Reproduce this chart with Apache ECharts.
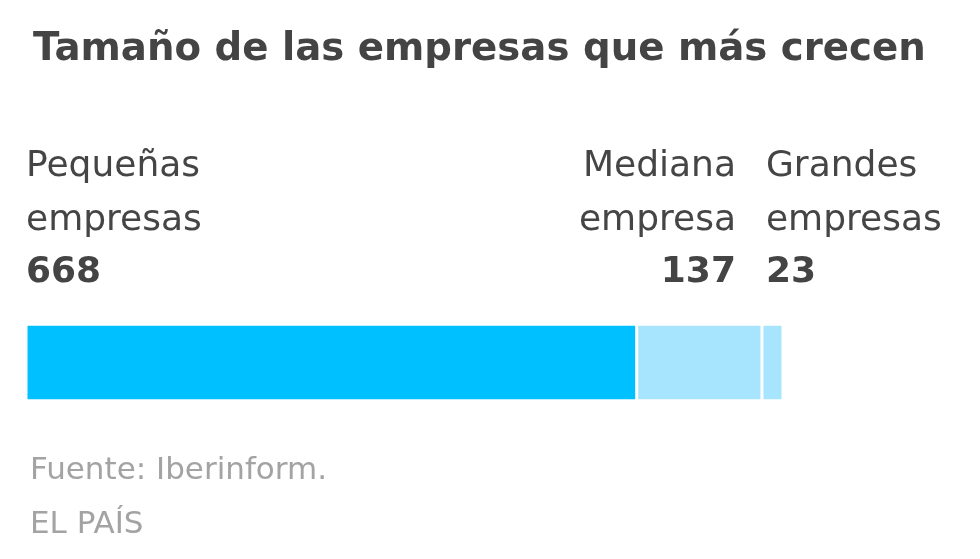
<!DOCTYPE html>
<html><head><meta charset="utf-8">
<script src="https://cdn.jsdelivr.net/npm/echarts@6/dist/echarts.min.js"></script>
<style>html,body{margin:0;padding:0;background:#fff}#c{width:980px;height:559px}</style>
</head><body><div id="c"></div>
<script>
var categories = ['Tamaño'];
var seriesNames = ['Pequeñas empresas', 'Mediana empresa', 'Grandes empresas'];
var labelLine1 = ['Pequeñas', 'Mediana', 'Grandes'];
var labelLine2 = ['empresas', 'empresa', 'empresas'];
var values = [668, 137, 23];
var colors = ['#00C0FF', '#A6E5FD', '#A6E5FD'];

var FONT = 'DejaVu Sans';
var total = values.reduce(function (a, b) { return a + b; }, 0);

function makeLabel(i) {
  var right = (i === 1);
  return {
    show: true,
    position: right ? ['100%', -27] : [0, -27],
    offset: right ? [-26, 0] : (i === 2 ? [4, 0] : [0, 0]),
    align: right ? 'right' : 'left',
    verticalAlign: 'bottom',
    formatter: function () {
      return '{a|' + labelLine1[i] + '}\n{a|' + labelLine2[i] + '}\n{b|' + values[i] + '}';
    },
    rich: {
      a: { fontFamily: FONT, fontSize: 36, lineHeight: 54, color: '#454545', align: right ? 'right' : 'left' },
      b: { fontFamily: FONT, fontSize: 36, fontWeight: 'bold', lineHeight: 50, color: '#444', align: right ? 'right' : 'left' }
    }
  };
}

var series = values.map(function (v, i) {
  return {
    name: seriesNames[i],
    type: 'bar',
    stack: 'total',
    barWidth: 77,
    data: [v],
    itemStyle: { color: colors[i], borderColor: '#fff', borderWidth: 1.5 },
    label: makeLabel(i),
    silent: true
  };
});

var chart = echarts.init(document.getElementById('c'), null, { renderer: 'canvas' });
chart.setOption({
  animation: false,
  backgroundColor: '#fff',
  title: [
    { text: 'Tamaño de las empresas que más crecen', left: 28, top: 25,
      textStyle: { fontFamily: FONT, fontSize: 38.7, fontWeight: 'bold', color: '#444' } },
    { text: 'Fuente: Iberinform.', left: 25, top: 450,
      textStyle: { fontFamily: FONT, fontSize: 31, fontWeight: 'normal', color: '#a3a3a3' } },
    { text: 'EL PAÍS', left: 25, top: 504,
      textStyle: { fontFamily: FONT, fontSize: 31, fontWeight: 'normal', color: '#a3a3a3' } }
  ],
  grid: { left: 26, right: 197, top: 325, bottom: 159, containLabel: false },
  xAxis: { type: 'value', min: 0, max: total, show: false },
  yAxis: { type: 'category', data: categories, show: false },
  series: series
});
</script></body></html>
